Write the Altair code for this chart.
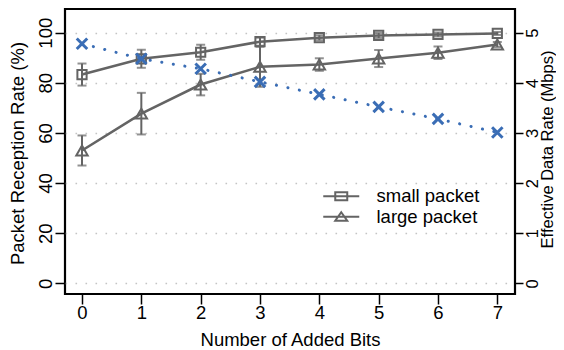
import altair as alt
import pandas as pd

bits = [0, 1, 2, 3, 4, 5, 6, 7]
small_rate = [83.3, 89.6, 92.2, 96.4, 98.0, 98.9, 99.3, 99.7]
small_err = [4.4, 3.6, 3.0, 1.6, 1.0, 1.0, 0.8, 0.6]
large_rate = [53.0, 67.7, 79.3, 86.4, 87.3, 89.7, 92.0, 95.3]
large_err = [6.0, 8.3, 4.3, 8.0, 2.5, 3.4, 2.5, 1.0]
data_rate = [4.78, 4.48, 4.28, 4.02, 3.77, 3.52, 3.28, 3.01]
series_names = ["small packet", "large packet"]

GRAY = "#646464"
BLUE = "#3a6db5"
FONT = "Liberation Sans"

rows = []
for name, vals, errs in [(series_names[0], small_rate, small_err),
                         (series_names[1], large_rate, large_err)]:
    for b, v, e in zip(bits, vals, errs):
        rows.append({"bits": b, "series": name, "rate": v,
                     "lo": v - e, "hi": v + e})
pkt = pd.DataFrame(rows)
eff = pd.DataFrame({"bits": bits, "mbps": data_rate})

xscale = alt.Scale(domain=[-0.2865, 7.298], nice=False, zero=False)
yleft = alt.Scale(domain=[-4.27, 109.46], nice=False, zero=False)
yright = alt.Scale(domain=[-0.2135, 5.473], nice=False, zero=False)

LEFT_TITLE = "Packet Reception Rate (%)"

xaxis = alt.Axis(values=bits, title="Number of Added Bits", grid=False,
                 domain=False, tickSize=10, tickWidth=1.5, tickColor="black",
                 labelPadding=14.3, labelBaseline="alphabetic",
                 labelFontSize=18.5, labelFont=FONT, labelColor="black",
                 titleFontSize=18.5, titleFont=FONT, titleFontWeight="normal",
                 titleColor="black", titleX=225, titleY=51.5,
                 titleBaseline="alphabetic", titleAlign="center")

X = alt.X("bits:Q", scale=xscale, axis=xaxis)

yaxis_left = alt.Axis(values=[0, 20, 40, 60, 80, 100],
                      title=LEFT_TITLE, orient="left",
                      grid=True, gridDash=[1.6, 8.4], gridColor="#c4c4c4",
                      gridWidth=1.6, domain=False, tickSize=10, tickWidth=1.5,
                      tickColor="black", labelAngle=270, labelAlign="center",
                      labelBaseline="alphabetic", labelPadding=3.7,
                      labelFontSize=18.5, labelFont=FONT, labelColor="black",
                      titleFontSize=18.5, titleFont=FONT,
                      titleFontWeight="normal", titleColor="black",
                      titleAngle=270, titleX=-41.5, titleY=144,
                      titleBaseline="alphabetic", titleAlign="center")

yaxis_right = alt.Axis(values=[0, 1, 2, 3, 4, 5],
                       title="Effective Data Rate (Mbps)", orient="right",
                       grid=False, domain=False, tickSize=8, tickWidth=1.5,
                       tickColor="black", labelAngle=270, labelAlign="center",
                       labelBaseline="alphabetic", labelPadding=14.8,
                       labelFontSize=16.5, labelFont=FONT, labelColor="black",
                       titleFontSize=16.5, titleFont=FONT,
                       titleFontWeight="normal", titleColor="black",
                       titleAngle=270, titleX=37.3, titleY=140,
                       titleBaseline="alphabetic", titleAlign="center")

base = alt.Chart(pkt)

YL = alt.Y("rate:Q", scale=yleft, axis=yaxis_left, title=LEFT_TITLE)

lines = base.mark_line(color=GRAY, strokeWidth=2.6).encode(
    x=X, y=YL, detail="series:N",
)

errbars = base.mark_errorbar(
    ticks={"size": 9, "thickness": 2, "color": GRAY},
    rule={"strokeWidth": 2, "color": GRAY},
    color=GRAY,
).encode(
    x=X,
    y=alt.Y("lo:Q", scale=yleft, axis=yaxis_left, title=LEFT_TITLE),
    y2="hi:Q",
)

sq = base.transform_filter(alt.datum.series == series_names[0]).mark_point(
    shape="square", size=85, filled=False, color=GRAY, strokeWidth=2, opacity=1
).encode(x=X, y=YL)

tri = base.transform_filter(alt.datum.series == series_names[1]).mark_point(
    shape="triangle-up", size=130, filled=False, color=GRAY, strokeWidth=2,
    opacity=1
).encode(x=X, y=YL)

SQ_PATH = "M-3,0H3M-1,-0.67H1V0.67H-1Z"
TRI_PATH = "M-3,0H3M0,-0.75L1,0.67H-1Z"

legend_layer = base.transform_filter(alt.datum.bits < -5).mark_point(
    filled=False, color=GRAY, strokeWidth=2
).encode(
    x=X,
    y=YL,
    shape=alt.Shape(
        "series:N",
        scale=alt.Scale(domain=series_names, range=[SQ_PATH, TRI_PATH]),
        legend=alt.Legend(
            title=None, orient="none", legendX=267, legendY=178,
            symbolSize=144, symbolStrokeWidth=2, symbolStrokeColor=GRAY,
            symbolFillColor="transparent", symbolOpacity=1,
            labelFontSize=18.5, labelFont=FONT, labelColor="black",
            labelOffset=26, rowPadding=1.5, padding=0,
        ),
    ),
)

left = alt.layer(lines, errbars, sq, tri, legend_layer)

blue_line = alt.Chart(eff).mark_line(
    color=BLUE, strokeWidth=3, strokeDash=[0.1, 11.6], strokeCap="round"
).encode(x=X, y=alt.Y("mbps:Q", scale=yright, axis=yaxis_right))

blue_pts = alt.Chart(eff).mark_point(
    shape="M-1,-1L1,1M-1,1L1,-1", size=110, filled=False, color=BLUE,
    strokeWidth=3, opacity=1
).encode(x=X, y=alt.Y("mbps:Q", scale=yright, axis=yaxis_right))

right = alt.layer(blue_line, blue_pts)

chart = alt.layer(left, right).resolve_scale(
    y="independent"
).properties(
    width=450, height=285,
    autosize=alt.AutoSizeParams(type="none"),
    padding={"left": 57, "top": 1, "right": 41, "bottom": 56},
).configure(
    background="white"
).configure_view(
    stroke="black", strokeWidth=2.2
)

chart.save("out.html", embed_options={"renderer": "svg", "actions": False})
